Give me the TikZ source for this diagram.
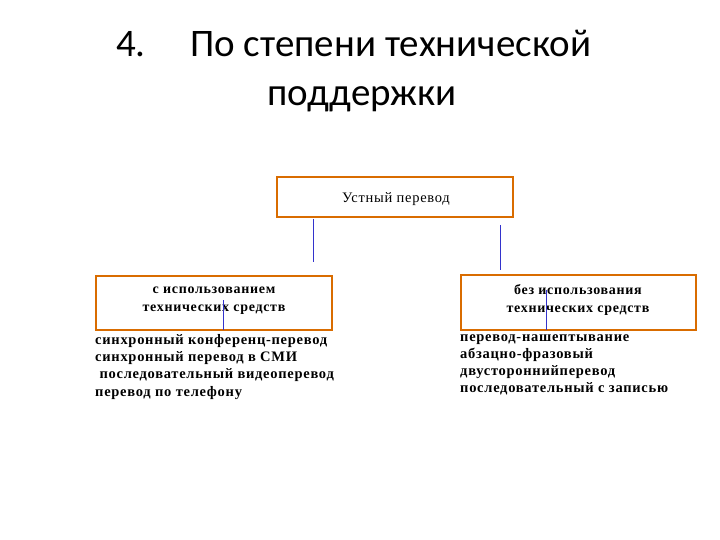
\documentclass[tikz,border=0pt]{standalone}
\usepackage{fontspec}
\setmainfont{Liberation Serif}
\newfontfamily\titlefont{Carlito}
\newfontfamily\wide[LetterSpace=5]{Liberation Serif}
\begin{document}
\begin{tikzpicture}[x=1pt,y=-1pt,
  obox/.style={draw=orange!85!black,line width=2.5pt,fill=white},
  blink/.style={draw=blue!60!gray,line width=0.8pt},
  lbl/.style={font=\wide\bfseries\fontsize{14}{18}\selectfont,align=center,inner sep=0},
  lst/.style={font=\wide\bfseries\fontsize{14.5}{17.3}\selectfont,align=left,anchor=north west,inner sep=0}]
\useasboundingbox (0,0) rectangle (720,540);
\node[font=\titlefont\fontsize{39}{46}\selectfont,anchor=base west,inner sep=0] (n4) at (116,57) {4.};
\node[font=\titlefont\fontsize{39}{46}\selectfont,anchor=base west,inner sep=0] (t1) at (190,57) {По степени технической};
\node[font=\titlefont\fontsize{39}{46}\selectfont,anchor=base,inner sep=0] (t2) at (362,106) {поддержки};
\draw[obox] (277,177) rectangle (513,217);
\node[font=\wide\fontsize{14.5}{16}\selectfont] (top) at (396,199) {Устный перевод};
\coordinate (a1) at (313,219); \coordinate (a2) at (313,262);
\coordinate (b1) at (500,225); \coordinate (b2) at (500,270);
\draw[blink] (a1) -- (a2);
\draw[blink] (b1) -- (b2);
\draw[obox] (96,276) rectangle (332,330);
\draw[obox] (461,275) rectangle (696,330);
\node[lbl] (l) at (214,301) {с использованием\\технических средств};
\node[lbl] (r) at (578,300) {без использования\\технических средств};
\coordinate (c1) at (223,300); \coordinate (c2) at (223,330);
\coordinate (d1) at (546,290); \coordinate (d2) at (546,330);
\draw[blink] (c1) -- (c2);
\draw[blink] (d1) -- (d2);
\node[lst] (ll) at (95,334) {синхронный конференц-перевод\\синхронный перевод в СМИ\\\ последовательный видеоперевод\\перевод по телефону};
\node[lst] (rl) at (460,334) {перевод-нашептывание\\абзацно-фразовый\\двустороннийперевод\\последовательный с записью};
\end{tikzpicture}
\end{document}
